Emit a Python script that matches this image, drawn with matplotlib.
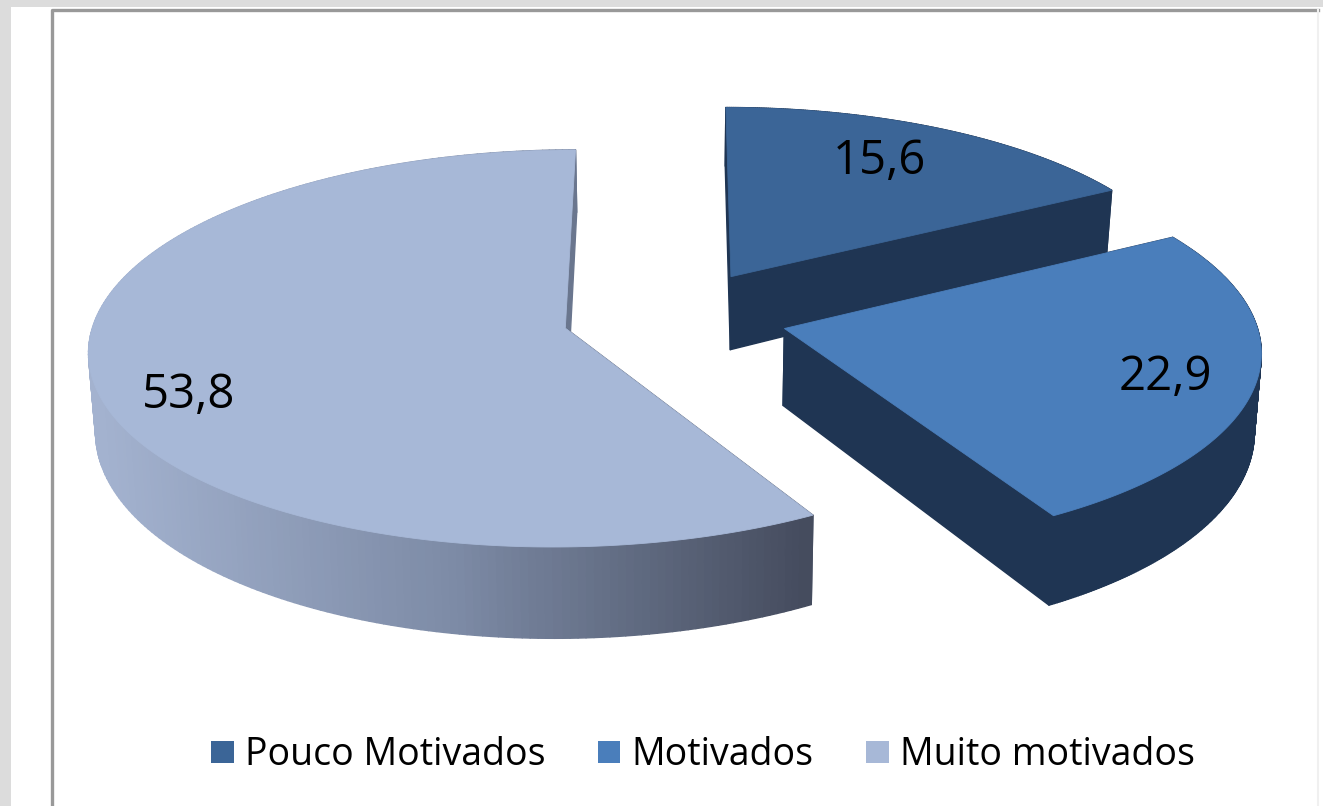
import numpy as np
import matplotlib
matplotlib.use("Agg")
import matplotlib.pyplot as plt
from matplotlib.collections import PolyCollection
from matplotlib.colors import LinearSegmentedColormap
from matplotlib.lines import Line2D
from matplotlib.patches import Patch, Polygon, Rectangle

categories = ["Pouco Motivados", "Motivados", "Muito motivados"]
values = [15.6, 22.9, 53.8]
value_labels = ["15,6", "22,9", "53,8"]

top_colors = ["#3b6597", "#4a7ebb", "#a7b8d7"]
side_colors = ["#1f3553", "#1f3553", None]
label_pos = [(879, 161), (1165, 377), (189, 395)]

# projection of the tilted, exploded pie into the pixel frame
CX, CY, A, B, K, EXPL = 675, 316, 470, 194, 0.102, 0.24
DEPTH, DEPTH_SLOPE = 76, 0.19


def project(X, Y):
    w = 1 + K * Y
    return CX + A * X / w, CY - B * Y / w


def thickness(Y):
    return DEPTH * (1 - DEPTH_SLOPE * Y)


fig = plt.figure(figsize=(13.23, 8.06), dpi=100, facecolor="#dcdcdc")
ax = fig.add_axes([0, 0, 1, 1])
ax.set_xlim(0, 1323)
ax.set_ylim(806, 0)
ax.axis("off")

ax.add_patch(Rectangle((11, 7), 1312, 799, fc="white", ec="none", zorder=0))
ax.add_line(Line2D([52, 52, 1318], [806, 10, 10], color="#999999", lw=2.4, zorder=0.5))
ax.add_line(Line2D([1318, 1318], [10, 806], color="#f0f0f0", lw=1.5, zorder=0.5))

shade = LinearSegmentedColormap.from_list("side", ["#a3b2cf", "#7d8ba6", "#454c5e"])
fractions = np.array(values) / sum(values)
edges = np.concatenate([[0], np.cumsum(fractions)]) * 2 * np.pi

for i in range(len(values)):
    a0, a1 = edges[i], edges[i + 1]
    mid = (a0 + a1) / 2
    ox, oy = EXPL * np.sin(mid), EXPL * np.cos(mid)
    th = np.linspace(a0, a1, 240)
    Xb = np.concatenate([[ox], ox + np.sin(th), [ox]])
    Yb = np.concatenate([[oy], oy + np.cos(th), [oy]])
    xs, ys = project(Xb, Yb)
    top = np.column_stack([xs, ys])
    bottom = np.column_stack([xs - (xs - CX) * 0.012, ys + thickness(Yb)])
    quads, depth, pos = [], [], []
    for j in range(len(xs) - 1):
        quads.append([top[j], top[j + 1], bottom[j + 1], bottom[j]])
        depth.append((Yb[j] + Yb[j + 1]) / 2)
        pos.append((xs[j] + xs[j + 1]) / 2)
    order = np.argsort(depth)[::-1]
    quads = [quads[k] for k in order]
    pos = np.array(pos)[order]
    if side_colors[i] is None:
        t = np.clip((pos - 100) / (805 - 100), 0, 1)
        cols = shade(t)
    else:
        cols = side_colors[i]
    ax.add_collection(PolyCollection(quads, facecolors=cols, edgecolors=cols, lw=1.0, zorder=2 + i))
    ax.add_patch(Polygon(top, closed=True, fc=top_colors[i], ec=top_colors[i], lw=0.6, zorder=2.5 + i))
    ax.text(*label_pos[i], value_labels[i], ha="center", va="center", fontsize=34,
            family=["Open Sans", "DejaVu Sans"], color="black", zorder=10)

handles = [Patch(fc=c, ec="none") for c in top_colors]
ax.legend(handles, categories, loc="center", bbox_to_anchor=(703, 755), bbox_transform=ax.transData,
          ncol=3, frameon=False, handlelength=0.59, handleheight=0.52, handletextpad=0.3,
          columnspacing=1.41, labelcolor="black",
          prop={"family": ["Open Sans", "DejaVu Sans"], "size": 27, "weight": "medium"})

fig.savefig("out.png", dpi=100, facecolor=fig.get_facecolor())
